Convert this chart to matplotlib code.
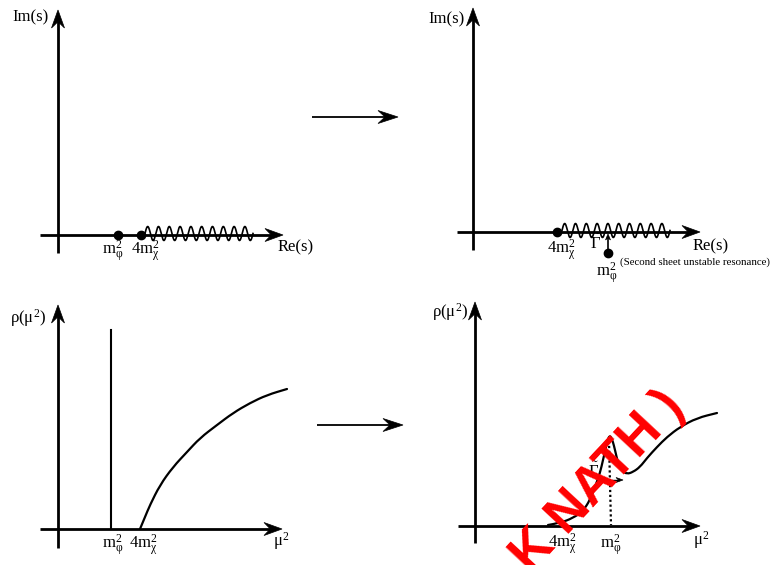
import numpy as np
import matplotlib
matplotlib.use("Agg")
import matplotlib.pyplot as plt
from matplotlib.patches import Polygon, PathPatch
from matplotlib.path import Path

plt.rcParams['mathtext.fontset'] = 'custom'
plt.rcParams['mathtext.rm'] = 'Liberation Serif'
plt.rcParams['mathtext.it'] = 'Liberation Serif'
plt.rcParams['mathtext.bf'] = 'Liberation Serif:bold'
plt.rcParams['font.family'] = ['Liberation Serif', 'DejaVu Serif']

W, H = 771, 565

# ---------------- diagram data (pixel layout of the sketch) ----------------
# panel 1: complex s-plane, stable particle
p1_vaxis = (58, 253, 10)          # x, bottom, tip
p1_haxis = (40, 283, 235)         # left, tip, y
p1_dots_x = [118, 141]
p1_cut = (145, 253)               # wiggly branch cut start/end
p1_cut_periods = 10

# panel 2: complex s-plane, unstable resonance
p2_vaxis = (473, 250, 8)
p2_haxis = (457, 700, 232)
p2_dot_thr = 557
p2_cut = (562, 670)
p2_cut_periods = 10
p2_pole = (608, 253)

# panel 3: spectral density, stable particle
p3_vaxis = (58, 548, 305)
p3_haxis = (40, 282, 529)
p3_delta = (111, 529, 330)
c3_x = [140, 145, 150, 160, 173, 187, 200, 217, 233, 250, 267, 287]
c3_y = [529, 517, 505, 485, 467, 452, 438, 425, 413, 403, 395, 389]

# panel 4: spectral density, resonance
p4_vaxis = (475, 543, 302)
p4_haxis = (458, 700, 526)
c4_x = [548, 560, 573, 583, 590, 595, 600, 603, 606, 608, 609.5, 611, 613, 615,
        618, 622, 627, 633, 640, 647, 657, 667, 680, 697, 717]
c4_y = [525, 523, 518, 511, 500, 487, 473, 460, 447, 439, 436, 437, 442, 450,
        463, 471, 474, 472, 467, 458, 447, 437, 427, 418, 413]
p4_dotted = (609, 611, 441, 525)
p4_width = (598, 623, 480)

# transition arrows
mid_arrows = [(312, 398, 117), (317, 403, 425)]

# labels
labels = [
    ("Im(s)", 12, 17, 12, 'left'),
    ("Re(s)", 278, 247, 12, 'left'),
    (r"$\mathrm{m}_{\varphi}^{2}$", 113, 251, 12, 'center'),
    (r"$4\mathrm{m}_{\chi}^{2}$", 145, 251, 12, 'center'),
    ("Im(s)", 428, 19, 12, 'left'),
    ("Re(s)", 693, 246, 12, 'left'),
    (r"$4\mathrm{m}_{\chi}^{2}$", 561, 250, 12, 'center'),
    (r"$\tilde{\Gamma}$", 596, 243, 12, 'center'),
    (r"$\mathrm{m}_{\varphi}^{2}$", 607, 273, 12, 'center'),
    ("(Second sheet unstable resonance)", 620, 262, 7.8, 'left'),
    (r"$\rho(\mu^{2})$", 10, 318, 12, 'left'),
    (r"$\mu^{2}$", 273, 541, 12, 'left'),
    (r"$\mathrm{m}_{\varphi}^{2}$", 113, 545, 12, 'center'),
    (r"$4\mathrm{m}_{\chi}^{2}$", 143, 545, 12, 'center'),
    (r"$\rho(\mu^{2})$", 432, 312, 12, 'left'),
    (r"$\mu^{2}$", 693, 540, 12, 'left'),
    (r"$4\mathrm{m}_{\chi}^{2}$", 562, 544, 12, 'center'),
    (r"$\mathrm{m}_{\varphi}^{2}$", 611, 545, 12, 'center'),
    (r"$\tilde{\Gamma}$", 594, 471, 12, 'center'),
]
watermark = ("K NATH )", 598, 482, 47)

# ---------------- drawing ----------------
fig = plt.figure(figsize=(W / 100, H / 100), dpi=100)
ax = fig.add_axes([0, 0, 1, 1])
ax.set_xlim(0, W)
ax.set_ylim(H, 0)
ax.axis('off')


def head(ax, tip, u, hl, hw, color='k'):
    n = np.array([-u[1], u[0]])
    tip = np.asarray(tip, float)
    pts = [tip, tip - u * hl + n * hw / 2, tip - u * hl * 0.65,
           tip - u * hl - n * hw / 2]
    ax.add_patch(Polygon(pts, closed=True, facecolor=color, edgecolor=color,
                         lw=0.5, zorder=5))


def arrow(ax, x0, y0, x1, y1, lw=2.0, hl=18, hw=13, both=False, color='k'):
    p0 = np.array([x0, y0], float)
    p1 = np.array([x1, y1], float)
    d = p1 - p0
    u = d / np.hypot(*d)
    a = p0 + (u * hl * 0.6 if both else 0)
    b = p1 - u * hl * 0.6
    ax.plot([a[0], b[0]], [a[1], b[1]], color=color, lw=lw,
            solid_capstyle='butt', zorder=4)
    head(ax, p1, u, hl, hw, color)
    if both:
        head(ax, p0, -u, hl, hw, color)


def wiggle(ax, x0, x1, y, periods, amp=7.0):
    xs = np.linspace(x0, x1, 500)
    ys = y - 1.5 - amp * np.sin(2 * np.pi * periods * (xs - x0) / (x1 - x0))
    ax.plot(xs, ys, color='k', lw=1.2, zorder=3)


def smooth_curve(ax, xs, ys, lw=1.6, zorder=4):
    pts = np.column_stack([xs, ys]).astype(float)
    verts = [pts[0]]
    codes = [Path.MOVETO]
    for i in range(1, len(pts) - 1):
        verts += [pts[i], (pts[i] + pts[i + 1]) / 2]
        codes += [Path.CURVE3, Path.CURVE3]
    verts.append(pts[-1])
    codes.append(Path.LINETO)
    ax.add_patch(PathPatch(Path(verts, codes), fill=False, edgecolor='k',
                           lw=lw, capstyle='round', joinstyle='round',
                           zorder=zorder))


# panel 1
arrow(ax, p1_vaxis[0], p1_vaxis[1], p1_vaxis[0], p1_vaxis[2])
arrow(ax, p1_haxis[0], p1_haxis[2], p1_haxis[1], p1_haxis[2])
ax.plot(p1_dots_x, [p1_haxis[2]] * len(p1_dots_x), 'o', color='k', ms=6, zorder=6)
wiggle(ax, p1_cut[0], p1_cut[1], p1_haxis[2], p1_cut_periods)

# panel 2
arrow(ax, p2_vaxis[0], p2_vaxis[1], p2_vaxis[0], p2_vaxis[2])
arrow(ax, p2_haxis[0], p2_haxis[2], p2_haxis[1], p2_haxis[2])
ax.plot([p2_dot_thr], [p2_haxis[2]], 'o', color='k', ms=6, zorder=6)
wiggle(ax, p2_cut[0], p2_cut[1], p2_haxis[2], p2_cut_periods)
ax.plot([p2_pole[0]], [p2_pole[1]], 'o', color='k', ms=6, zorder=6)
arrow(ax, p2_pole[0], p2_pole[1], p2_pole[0], p2_haxis[2] + 2, lw=1.2,
      hl=6, hw=5)

# panel 3
arrow(ax, p3_vaxis[0], p3_vaxis[1], p3_vaxis[0], p3_vaxis[2])
arrow(ax, p3_haxis[0], p3_haxis[2], p3_haxis[1], p3_haxis[2])
ax.plot([p3_delta[0], p3_delta[0]], [p3_delta[1], p3_delta[2]], color='k', lw=1.5)
smooth_curve(ax, c3_x, c3_y)

# panel 4
arrow(ax, p4_vaxis[0], p4_vaxis[1], p4_vaxis[0], p4_vaxis[2])
arrow(ax, p4_haxis[0], p4_haxis[2], p4_haxis[1], p4_haxis[2])
smooth_curve(ax, c4_x, c4_y)
ax.plot([p4_dotted[0], p4_dotted[1]], [p4_dotted[2], p4_dotted[3]],
        color='k', lw=1.6, ls=(0, (1, 1.2)))
arrow(ax, p4_width[0], p4_width[2], p4_width[1], p4_width[2], lw=1.0,
      hl=7, hw=5, both=True)

# transition arrows
for xa, xb, ya in mid_arrows:
    arrow(ax, xa, ya, xb, ya, lw=1.3, hl=20, hw=13)

for txt, x, y, fs, ha in labels:
    ax.text(x, y, txt, fontsize=fs, ha=ha, va='center', color='k', zorder=7)

wt, wx, wy, wr = watermark
ax.text(wx, wy, wt, fontsize=38, family='Liberation Sans', weight='bold',
        color='#ff0000', rotation=wr, rotation_mode='anchor', ha='center',
        va='center', zorder=10)

fig.savefig("out.png", dpi=100)
